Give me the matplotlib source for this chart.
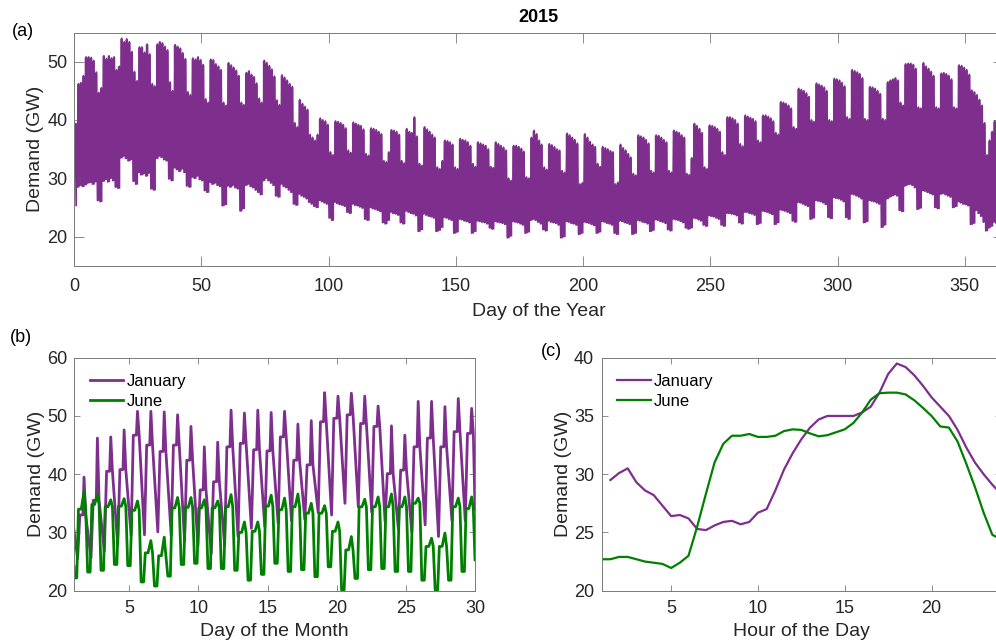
import matplotlib.pyplot as plt
import numpy as np

plt.rcParams['font.family'] = ['Liberation Sans', 'DejaVu Sans']

PURPLE = '#7E2F8E'
GREEN = '#008000'
TEXT = '#262626'
FRAME = '#7a7a7a'

# (a) daily minimum and maximum demand for 2015 (GW), Jan 1 = Thursday.
# First row Thu-Sun, then Monday..Sunday weeks, last row Mon-Thu.
daily_max = [
    39.4, 46.2, 46.4, 47.6,
    50.8, 50.8, 50.7, 50.2, 48.2, 44.7, 45.5,
    51.0, 50.5, 51.0, 50.6, 50.8, 48.6, 49.2,
    54.0, 53.4, 53.9, 53.4, 51.7, 48.3, 46.7,
    52.5, 52.5, 51.6, 53.0, 51.3, 46.2, 45.8,
    53.0, 53.4, 53.2, 52.6, 52.0, 46.5, 45.0,
    52.9, 52.6, 52.3, 51.5, 50.5, 44.8, 44.3,
    50.6, 50.4, 50.8, 50.3, 49.5, 43.6, 43.0,
    50.4, 50.3, 49.6, 49.2, 48.6, 43.0, 42.5,
    49.8, 49.4, 49.0, 48.5, 47.6, 43.0, 42.6,
    48.1, 48.4, 47.8, 47.4, 46.3, 43.7, 43.0,
    50.2, 49.8, 49.3, 48.7, 47.5, 43.4, 42.6,
    47.7, 47.3, 46.8, 46.2, 45.7, 39.5, 38.8,
    43.5, 42.8, 42.3, 41.8, 37.5, 37.0, 36.5,
    37.5, 40.3, 40.0, 39.8, 39.2, 34.5, 34.0,
    39.8, 39.7, 39.5, 39.2, 38.6, 34.8, 34.4,
    39.6, 39.4, 39.2, 39.0, 38.4, 34.2, 33.9,
    38.6, 38.5, 38.3, 38.0, 37.6, 33.0, 32.8,
    34.5, 38.3, 38.2, 38.0, 37.5, 33.0, 32.6,
    38.5, 38.0, 37.8, 40.5, 37.2, 32.5, 32.2,
    38.8, 38.4, 38.0, 37.5, 37.0, 31.9, 31.6,
    33.0, 36.5, 36.4, 36.2, 35.8, 31.9, 31.6,
    36.8, 36.6, 36.5, 36.2, 35.6, 32.5, 32.0,
    36.2, 36.0, 35.8, 35.6, 35.0, 32.0, 31.8,
    36.2, 35.9, 35.6, 35.3, 34.8, 30.0, 29.6,
    35.6, 35.6, 35.4, 35.1, 34.6, 30.2, 30.0,
    37.0, 38.2, 37.6, 36.5, 35.8, 31.9, 31.5,
    35.9, 35.7, 35.4, 35.0, 34.8, 31.3, 31.0,
    37.7, 37.4, 37.0, 36.6, 36.0, 29.0, 29.2,
    37.6, 37.0, 36.3, 35.8, 35.4, 32.5, 32.0,
    35.4, 35.2, 35.0, 34.7, 34.5, 29.0, 29.3,
    35.8, 35.2, 34.8, 34.2, 33.6, 30.8, 30.5,
    37.4, 37.2, 37.0, 36.6, 36.0, 31.3, 31.0,
    37.4, 37.3, 37.0, 36.6, 36.2, 31.3, 31.0,
    38.2, 38.0, 37.8, 37.4, 37.0, 30.8, 30.6,
    33.5, 39.4, 39.0, 38.5, 37.8, 31.9, 31.6,
    39.1, 39.0, 38.8, 38.5, 38.0, 34.5, 34.0,
    40.5, 40.5, 40.3, 40.0, 39.4, 35.9, 35.5,
    40.8, 40.6, 40.4, 40.2, 39.8, 36.5, 36.2,
    40.8, 40.8, 40.6, 40.3, 39.8, 37.8, 37.5,
    43.1, 43.0, 42.8, 42.5, 42.0, 38.8, 38.5,
    45.4, 45.2, 45.0, 44.6, 44.0, 40.0, 39.7,
    46.3, 46.1, 45.9, 45.6, 45.0, 40.0, 39.8,
    47.1, 47.0, 46.8, 46.4, 45.8, 40.5, 40.2,
    48.6, 48.4, 48.2, 47.9, 47.2, 40.2, 40.0,
    45.7, 45.6, 45.4, 45.0, 44.5, 40.2, 40.0,
    46.5, 46.8, 47.0, 47.2, 46.8, 43.0, 42.5,
    49.6, 49.7, 49.7, 49.5, 48.8, 42.2, 42.0,
    49.8, 49.2, 48.8, 48.3, 47.6, 42.2, 42.0,
    48.0, 48.1, 47.9, 47.6, 47.0, 42.2, 42.0,
    49.4, 49.3, 49.0, 48.6, 47.8, 45.1, 44.8,
    44.3, 43.5, 42.5, 39.5, 34.0, 36.5, 38.0,
    39.8, 40.0, 39.5, 37.0,
]
daily_min = [
    25.3, 28.5, 28.8, 28.6,
    28.9, 29.2, 29.3, 29.0, 29.4, 26.2, 26.0,
    29.5, 29.8, 29.4, 30.0, 29.6, 28.5, 28.3,
    33.5, 33.8, 33.4, 33.0, 33.2, 29.5, 29.0,
    31.0, 30.6, 30.8, 30.4, 30.9, 28.2, 28.0,
    33.4, 33.8, 33.6, 33.2, 33.0, 29.9, 29.6,
    31.8, 31.5, 31.2, 31.6, 31.0, 28.7, 28.5,
    30.2, 30.0, 30.4, 29.8, 29.6, 27.9, 27.6,
    29.3, 29.0, 29.2, 28.8, 28.6, 25.3, 25.5,
    28.7, 28.5, 28.8, 28.4, 28.2, 24.4, 24.8,
    28.8, 29.0, 28.6, 28.4, 28.0, 27.6, 27.2,
    29.6, 30.0, 29.6, 29.2, 28.8, 27.0, 26.8,
    29.0, 28.6, 28.4, 28.0, 27.6, 25.6, 25.4,
    27.3, 27.0, 26.8, 26.5, 25.9, 25.6, 25.2,
    25.0, 26.2, 26.0, 25.8, 25.6, 23.2, 22.8,
    25.9, 25.7, 25.5, 25.4, 25.2, 24.2, 24.0,
    25.6, 25.4, 25.3, 25.1, 24.9, 23.0, 22.8,
    25.0, 24.8, 24.7, 24.5, 24.3, 22.4, 22.2,
    22.8, 24.2, 24.0, 23.9, 23.7, 22.4, 22.2,
    24.4, 24.2, 24.0, 23.9, 23.6, 20.9, 21.2,
    23.9, 23.7, 23.5, 23.4, 23.2, 20.9, 21.1,
    21.6, 23.3, 23.2, 23.0, 22.8, 20.6, 20.8,
    23.0, 22.9, 22.7, 22.6, 22.4, 20.6, 20.9,
    22.7, 22.6, 22.5, 22.4, 22.2, 21.5, 21.3,
    22.6, 22.5, 22.4, 22.3, 22.1, 19.8, 20.1,
    22.6, 22.5, 22.4, 22.2, 22.0, 20.6, 20.8,
    22.8, 23.0, 22.8, 22.5, 22.2, 21.2, 21.0,
    22.7, 22.5, 22.4, 22.3, 22.0, 19.8, 20.0,
    22.6, 22.5, 22.3, 22.2, 22.0, 20.4, 20.6,
    22.5, 22.4, 22.3, 22.1, 21.9, 20.6, 20.8,
    22.6, 22.5, 22.3, 22.2, 22.0, 20.6, 20.4,
    22.7, 22.6, 22.4, 22.3, 22.1, 20.4, 20.6,
    22.8, 22.7, 22.5, 22.4, 22.2, 20.9, 21.1,
    22.9, 22.8, 22.6, 22.5, 22.3, 21.2, 21.0,
    23.0, 22.9, 22.8, 22.6, 22.4, 21.5, 21.3,
    21.5, 23.2, 23.1, 22.9, 22.7, 22.0, 21.8,
    23.6, 23.5, 23.4, 23.2, 23.0, 22.0, 21.8,
    24.0, 24.0, 23.9, 23.8, 23.6, 22.4, 22.2,
    24.2, 24.2, 24.0, 23.9, 23.7, 22.1, 22.3,
    24.4, 24.3, 24.2, 24.0, 23.8, 22.1, 22.4,
    24.6, 24.5, 24.4, 24.2, 24.0, 22.7, 22.5,
    25.9, 25.8, 25.6, 25.4, 25.2, 23.0, 23.2,
    26.2, 26.1, 26.0, 25.8, 25.5, 23.3, 23.1,
    26.7, 26.6, 26.5, 26.3, 26.0, 23.3, 23.0,
    27.3, 27.2, 27.0, 26.8, 26.5, 22.4, 22.6,
    26.2, 26.1, 26.0, 25.8, 25.6, 21.6, 22.0,
    26.5, 26.8, 27.0, 27.2, 27.0, 24.5, 24.3,
    28.7, 28.9, 29.0, 28.8, 28.4, 24.7, 24.9,
    27.9, 27.8, 27.6, 27.4, 27.2, 25.0, 24.8,
    27.3, 27.4, 27.2, 27.0, 26.8, 25.0, 25.2,
    26.0, 25.8, 25.6, 25.5, 25.3, 22.1, 22.3,
    24.5, 24.0, 23.5, 22.5, 21.0, 21.5, 21.8,
    22.5, 22.3, 22.0, 22.0,
]

# (b) January and June, daily shape points (GW)
jan_trough = [25.5, 25.6, 26.8, 27.8, 29.5, 29.6, 30.1, 29.5, 28.5, 27.6,
              26.4, 27.8, 29.3, 30.7, 31.0, 31.6, 32.0, 32.2, 33.4, 33.0,
              35.0, 34.4, 33.5, 31.9, 30.5, 30.1, 31.3, 29.3, 32.1, 32.0]
jan_shoulder = [33.0, 35.5, 40.5, 40.8, 46.7, 45.0, 43.9, 45.0, 42.4, 37.3,
                38.7, 44.7, 45.3, 44.2, 44.0, 46.4, 42.4, 41.6, 49.0, 49.6,
                50.2, 48.7, 48.2, 40.1, 40.7, 44.7, 46.2, 44.7, 47.3, 47.0]
jan_peak = [39.5, 46.2, 46.4, 47.6, 50.8, 50.8, 50.7, 50.2, 48.2, 44.7,
            45.5, 51.0, 50.5, 51.0, 50.6, 50.8, 48.6, 49.2, 54.0, 53.4,
            53.9, 53.4, 51.7, 48.3, 46.7, 52.5, 52.5, 51.6, 53.0, 51.3]
jan_edges = [30.4, 34.0]

june_low = [22.2, 23.2, 23.5, 24.5, 24.3, 21.5, 20.8, 22.5, 24.5, 24.7,
            23.8, 23.8, 23.5, 21.8, 22.8, 24.7, 23.3, 23.6, 22.4, 24.1,
            20.1, 22.1, 23.6, 23.8, 23.3, 23.3, 21.8, 20.1, 21.8, 23.3]
june_plateau = [34.0, 34.8, 34.4, 34.5, 33.8, 26.5, 26.0, 34.2, 34.3, 34.2,
                34.2, 34.4, 30.0, 30.2, 34.5, 33.9, 34.4, 33.3, 33.3, 30.2,
                27.0, 34.4, 34.4, 34.4, 34.4, 35.0, 27.6, 27.6, 34.4, 34.1]
june_peak = [37.0, 36.6, 35.6, 35.8, 35.4, 28.6, 29.2, 36.0, 36.0, 35.6,
             35.4, 36.5, 31.8, 31.8, 36.4, 35.9, 36.6, 35.0, 34.6, 31.8,
             29.3, 35.7, 36.1, 36.6, 36.1, 35.9, 29.0, 29.9, 35.9, 36.1]
june_edges = [24.2, 25.3]

# (c) average half-hourly profile (GW)
jan_hours = np.arange(1.5, 24.01, 0.5)
jan_profile = [29.5, 30.1, 30.5, 29.3, 28.6, 28.2, 27.3, 26.4, 26.5, 26.2,
               25.3, 25.2, 25.6, 25.9, 26.0, 25.7, 25.9, 26.7, 27.0, 28.6,
               30.4, 31.8, 33.0, 34.0, 34.7, 35.0, 35.0, 35.0, 35.0, 35.3,
               35.8, 37.0, 38.6, 39.5, 39.2, 38.5, 37.6, 36.6, 35.8, 35.0,
               33.8, 32.3, 31.0, 30.0, 29.1, 28.3]
june_hours = np.arange(1.0, 24.01, 0.5)
june_profile = [22.7, 22.7, 22.9, 22.9, 22.7, 22.5, 22.4, 22.3, 21.95, 22.4,
                23.0, 25.5, 28.3, 31.0, 32.6, 33.3, 33.3, 33.45, 33.2, 33.2,
                33.3, 33.7, 33.85, 33.8, 33.5, 33.25, 33.35, 33.6, 33.85, 34.4,
                35.3, 36.4, 36.95, 37.0, 37.0, 36.85, 36.35, 35.7, 35.0, 34.1,
                34.0, 32.8, 30.9, 28.9, 26.7, 24.8, 24.4]


def month_trace(hours, columns, edges):
    """Chain the per-day points into one series on a 1..30 day axis."""
    n_days = len(columns[0])
    xs, ys = [0.0], [edges[0]]
    for d, vals in enumerate(zip(*columns)):
        for h, v in zip(hours, vals):
            xs.append(d + h / 24)
            ys.append(v)
    xs.append(n_days)
    ys.append(edges[1])
    return 1 + np.array(xs) * 29 / n_days, np.array(ys)


def style_axes(ax, xpad, ypad, ticklen):
    ax.tick_params(direction='in', top=True, right=True, length=ticklen,
                   width=0.6, color=FRAME, labelcolor=TEXT, labelsize=13)
    ax.tick_params(axis='x', pad=xpad)
    ax.tick_params(axis='y', pad=ypad)
    for spine in ax.spines.values():
        spine.set_color(FRAME)
        spine.set_linewidth(0.7)


W, H = 996, 643
fig = plt.figure(figsize=(W / 100, H / 100), dpi=100)


def px_axes(left, top, right, bottom):
    return fig.add_axes([left / W, 1 - bottom / H, (right - left) / W, (bottom - top) / H])


def legend(ax):
    ax.legend(loc='upper left', frameon=False, fontsize=12, handlelength=2.0,
              handletextpad=0.2, labelspacing=0.3, borderaxespad=0.3,
              bbox_to_anchor=(0.01, 0.98))


# (a) whole year: solid band between the daily extremes, zig-zag on top
ax_a = px_axes(74, 32.5, 1003, 265.7)
day_idx = np.arange(len(daily_max))
ax_a.fill_between(day_idx + 0.5, daily_min, daily_max, step='mid',
                  color=PURPLE, lw=0)
x_a = np.column_stack([day_idx + 0.25, day_idx + 0.75]).ravel()
y_a = np.column_stack([daily_min, daily_max]).ravel()
ax_a.plot(x_a, y_a, color=PURPLE, lw=1.3)
ax_a.set_xlim(0, 365)
ax_a.set_ylim(15, 55)
ax_a.set_xticks(np.arange(0, 351, 50))
ax_a.set_yticks([20, 30, 40, 50])
style_axes(ax_a, 9, 4.5, 7)
ax_a.set_xlabel('Day of the Year', fontsize=14, color=TEXT)
ax_a.set_ylabel('Demand (GW)', fontsize=14, color=TEXT)
ax_a.xaxis.set_label_coords(0.5, -0.16)
ax_a.yaxis.set_label_coords(-0.032, 0.5)

# (b) January vs June, day by day
ax_b = px_axes(74, 357.7, 475, 590.7)
xj, yj = month_trace([6.5, 10.5, 16, 18, 21],
                     [jan_trough, jan_shoulder, jan_shoulder, jan_peak, jan_shoulder],
                     jan_edges)
xn, yn = month_trace([0.5, 5, 8, 13, 18, 21],
                     [june_low, june_low, june_plateau, june_plateau, june_peak, june_plateau],
                     june_edges)
ax_b.plot(xj, yj, color=PURPLE, lw=2.0, label='January')
ax_b.plot(xn, yn, color=GREEN, lw=2.0, label='June')
ax_b.set_xlim(1, 30)
ax_b.set_ylim(20, 60)
ax_b.set_xticks([5, 10, 15, 20, 25, 30])
ax_b.set_yticks([20, 30, 40, 50, 60])
style_axes(ax_b, 6.5, 4.5, 4)
ax_b.set_xlabel('Day of the Month', fontsize=14, color=TEXT)
ax_b.set_ylabel('Demand (GW)', fontsize=14, color=TEXT)
ax_b.xaxis.set_label_coords(0.5, -0.138)
ax_b.yaxis.set_label_coords(-0.072, 0.5)
legend(ax_b)

# (c) hour-of-day profile
ax_c = px_axes(601.7, 357.7, 1001, 590.7)
ax_c.plot(jan_hours, jan_profile, color=PURPLE, lw=1.6, label='January')
ax_c.plot(june_hours, june_profile, color=GREEN, lw=1.6, label='June')
ax_c.set_xlim(1, 24)
ax_c.set_ylim(20, 40)
ax_c.set_xticks([5, 10, 15, 20])
ax_c.set_yticks([20, 25, 30, 35, 40])
style_axes(ax_c, 6.5, 5.5, 4)
ax_c.set_xlabel('Hour of the Day', fontsize=14, color=TEXT)
ax_c.set_ylabel('Demand (GW)', fontsize=14, color=TEXT)
ax_c.xaxis.set_label_coords(0.5, -0.138)
ax_c.yaxis.set_label_coords(-0.074, 0.5)
legend(ax_c)

fig.text(538 / W, 1 - 18 / H, '2015', ha='center', va='center',
         fontsize=13, fontweight='bold', color='black')
fig.text(12 / W, 1 - 31 / H, '(a)', ha='left', va='center', fontsize=13, color='black')
fig.text(10 / W, 1 - 338 / H, '(b)', ha='left', va='center', fontsize=13, color='black')
fig.text(541 / W, 1 - 351 / H, '(c)', ha='left', va='center', fontsize=13, color='black')

fig.savefig('out.png', dpi=100)
